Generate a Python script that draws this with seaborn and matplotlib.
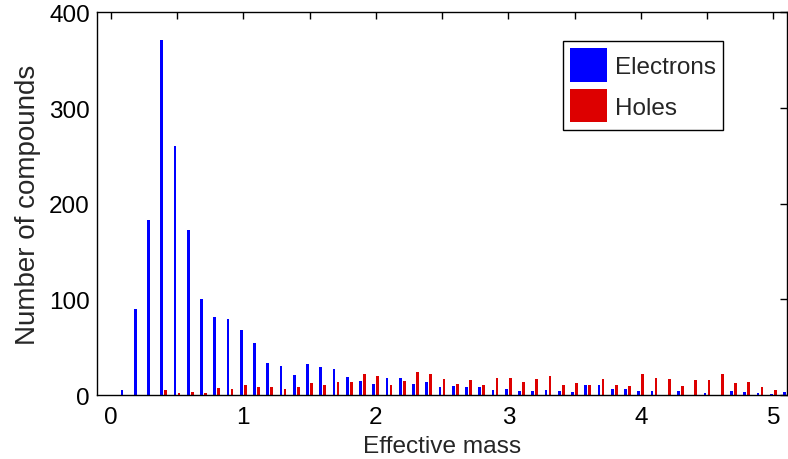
import numpy as np
import pandas as pd
import matplotlib
matplotlib.use('Agg')
import matplotlib.pyplot as plt
import seaborn as sns

sns.set_style('white')
plt.rcParams['font.family'] = ['Liberation Sans', 'DejaVu Sans']

# bin centres of the effective mass histogram
mass = np.round(np.arange(1, 52) * 0.1, 1)

electrons = [5, 90, 183, 371, 260, 173, 100, 82, 80, 68,
             54, 34, 30, 21, 32, 29, 27, 19, 15, 12,
             18, 18, 12, 14, 8, 9, 8, 8, 5, 6,
             4, 4, 5, 4, 3, 10, 10, 6, 6, 4,
             4, 0, 4, 0, 2, 0, 4, 3, 2, 1, 3]
holes = [0, 0, 0, 5, 2, 3, 2, 7, 6, 11,
         8, 8, 6, 8, 13, 10, 14, 14, 22, 20,
         11, 15, 24, 22, 17, 12, 16, 11, 18, 18,
         14, 17, 20, 10, 13, 11, 17, 11, 9, 22,
         18, 17, 9, 16, 16, 22, 13, 14, 8, 5, 0]

df = pd.concat([
    pd.DataFrame({'mass': mass, 'count': electrons, 'carrier': 'Electrons'}),
    pd.DataFrame({'mass': mass, 'count': holes, 'carrier': 'Holes'}),
])

fig = plt.figure(figsize=(7.88, 4.6), dpi=100)
ax = fig.add_axes([0.123, 0.139, 0.876, 0.832])

sns.barplot(data=df, x='mass', y='count', hue='carrier',
            hue_order=['Electrons', 'Holes'],
            palette={'Electrons': '#0000ff', 'Holes': '#dd0000'},
            native_scale=True, dodge=True, width=0.6, gap=0.3,
            saturation=1, errorbar=None, linewidth=0, ax=ax)

ax.set_xlim(-0.105, 5.105)
ax.set_ylim(0, 400)
xt = np.arange(0, 5.01, 0.5)
ax.set_xticks(xt, [str(int(t)) if t == int(t) else '' for t in xt])
ax.set_yticks([0, 100, 200, 300, 400])
ax.tick_params(direction='in', length=5, width=1, top=True, right=True,
               labelsize=17.5, colors='black')
ax.tick_params(axis='x', pad=8)
ax.tick_params(axis='y', pad=5)
for s in ax.spines.values():
    s.set_color('black')
    s.set_linewidth(1)

ax.set_xlabel('Effective mass', fontsize=17.6, labelpad=5)
ax.set_ylabel('Number of compounds', fontsize=20, labelpad=6)

h, l = ax.get_legend_handles_labels()
leg = ax.legend(h, l, loc='upper left', bbox_to_anchor=(0.675, 0.926),
                borderaxespad=0, fontsize=17.5, handlelength=1.53,
                handleheight=1.75, handletextpad=0.3, labelspacing=0.3,
                borderpad=0.3, fancybox=False, framealpha=1,
                edgecolor='black')
leg.get_frame().set_linewidth(1)

fig.savefig('out.png', dpi=100)
